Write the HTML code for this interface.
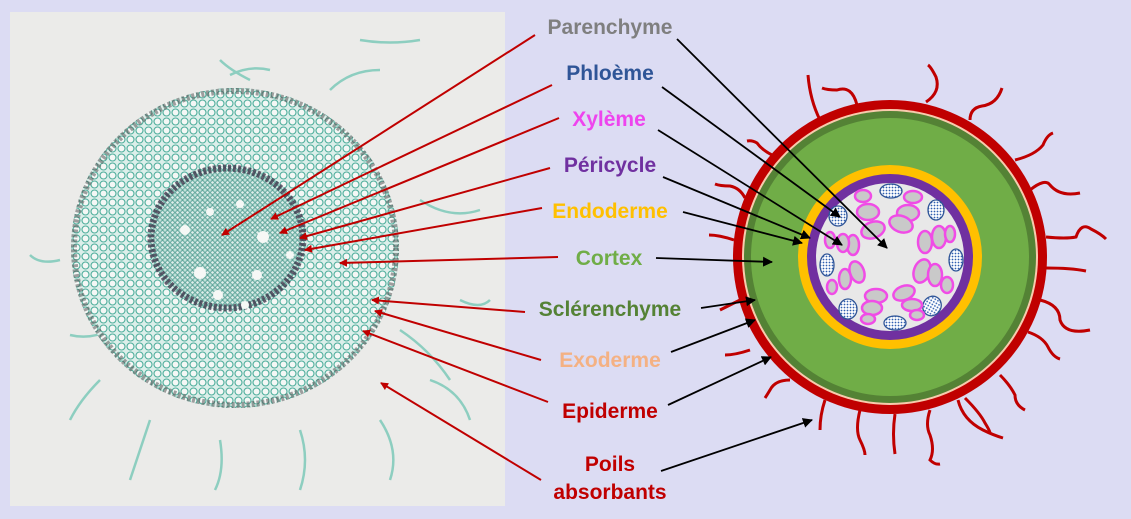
<!DOCTYPE html>
<html><head><meta charset="utf-8"><style>
html,body{margin:0;padding:0;}
body{width:1131px;height:519px;background:#dcdcf3;overflow:hidden;position:relative;font-family:"Liberation Sans",sans-serif;}
svg{position:absolute;left:0;top:0;}
</style></head><body>
<svg width="1131" height="519" viewBox="0 0 1131 519">
<defs>
<pattern id="cells" width="9" height="9" patternUnits="userSpaceOnUse">
<rect width="9" height="9" fill="#dcefea"/>
<circle cx="4.5" cy="4.5" r="3.5" fill="#f4f7f5" stroke="#4fae9c" stroke-width="1.1"/>
</pattern>
<pattern id="cellsS" width="5" height="5" patternUnits="userSpaceOnUse">
<rect width="5" height="5" fill="#bfe0d8"/>
<circle cx="2.5" cy="2.5" r="1.8" fill="#e2f0ec" stroke="#3c8f83" stroke-width="0.8"/>
</pattern>
<pattern id="dots" width="3" height="3" patternUnits="userSpaceOnUse">
<rect width="3" height="3" fill="#fff"/><circle cx="1.5" cy="1.5" r="0.9" fill="#2f5fb0"/>
</pattern>
<marker id="ar" markerWidth="8" markerHeight="8" refX="7" refY="4" orient="auto" markerUnits="userSpaceOnUse"><path d="M0,0 L8,4 L0,8 z" fill="#c00000"/></marker>
<marker id="ab" markerWidth="10" markerHeight="10" refX="9" refY="5" orient="auto" markerUnits="userSpaceOnUse"><path d="M0,0 L10,5 L0,10 z" fill="#000"/></marker>
</defs>
<!-- photo -->
<rect x="10" y="12" width="495" height="494" fill="#ebebe9"/>
<g stroke="#7cc9b8" stroke-width="2.5" fill="none" opacity="0.85">
<path d="M230 75 q20 -10 40 -5 M360 40 q30 5 60 0 M120 150 q-10 20 -30 25 M60 260 q-20 5 -30 -5 M420 200 q30 20 60 10 M400 330 q30 20 50 50 M150 420 q-10 30 -20 60 M220 440 q5 30 -5 50 M300 430 q10 30 0 60 M380 420 q20 30 10 60 M430 380 q30 10 40 40 M110 330 q-20 10 -40 5 M460 300 q20 10 30 0 M330 90 q20 -20 50 -20 M100 380 q-20 20 -30 40 M250 80 q-20 -10 -30 -20"/>
</g>
<ellipse cx="235" cy="248" rx="164" ry="160" fill="url(#cells)"/>
<ellipse cx="235" cy="248" rx="161" ry="157" fill="none" stroke="#555" stroke-width="6" stroke-dasharray="3 2" opacity="0.55"/>
<ellipse cx="227" cy="238" rx="78" ry="72" fill="url(#cellsS)"/>
<ellipse cx="227" cy="238" rx="76" ry="70" fill="none" stroke="#3a2f45" stroke-width="7" stroke-dasharray="3 2" opacity="0.75"/>
<g fill="#f6f8f6"><circle cx="210" cy="212" r="4"/><circle cx="263" cy="237" r="6"/><circle cx="185" cy="230" r="5"/><circle cx="200" cy="273" r="6"/><circle cx="257" cy="275" r="5"/><circle cx="218" cy="295" r="5"/><circle cx="245" cy="305" r="4"/><circle cx="290" cy="255" r="4"/><circle cx="240" cy="204" r="4"/></g>
<!-- red arrows -->
<g stroke="#c00000" stroke-width="2" fill="none" marker-end="url(#ar)">
<line x1="535" y1="35" x2="222" y2="235"/>
<line x1="552" y1="85" x2="271" y2="219"/>
<line x1="559" y1="118" x2="280" y2="233"/>
<line x1="550" y1="168" x2="300" y2="238"/>
<line x1="542" y1="208" x2="305" y2="250"/>
<line x1="558" y1="257" x2="340" y2="263"/>
<line x1="525" y1="312" x2="372" y2="300"/>
<line x1="541" y1="360" x2="375" y2="311"/>
<line x1="548" y1="402" x2="363" y2="331"/>
<line x1="541" y1="480" x2="381" y2="383"/>
</g>
<!-- hairs -->
<g stroke="#c00000" stroke-width="3" fill="none">
<path d="M820 120 q-10 -20 -12 -45"/>
<path d="M857 105 q-5 -20 -20 -15 q-10 0 -15 -2"/>
<path d="M926 102 q15 -10 10 -25 q-5 -10 -8 -12"/>
<path d="M970 120 q0 -12 12 -14 q15 -2 20 -18"/>
<path d="M1015 160 q20 -5 28 -15 q4 -10 10 -12"/>
<path d="M1030 190 q15 -12 20 -5 q10 12 30 8"/>
<path d="M1046 237 q20 2 30 0 q5 -15 15 -8 q10 5 15 10"/>
<path d="M1046 268 q25 0 40 3"/>
<path d="M1040 300 q20 5 20 20 q5 15 30 10"/>
<path d="M1028 332 q15 5 20 15 q5 10 12 12"/>
<path d="M1000 375 q10 10 15 20 q0 10 10 15"/>
<path d="M965 398 q15 15 20 25 q5 8 5 10 "/>
<path d="M958 400 q5 20 25 30 q10 5 20 8"/>
<path d="M930 410 q-5 15 0 25 q5 15 0 25 q5 5 10 4"/>
<path d="M895 414 q-3 20 0 40"/>
<path d="M860 410 q-5 20 0 30 q5 10 5 15"/>
<path d="M825 400 q-5 15 -5 30"/>
<path d="M790 380 q-15 0 -20 10 q-3 5 -5 8"/>
<path d="M750 350 q-15 5 -25 5"/>
<path d="M740 300 q-10 5 -20 10"/>
<path d="M734 240 q-15 -5 -25 -5"/>
<path d="M745 198 q-5 -10 -15 -12 q-10 0 -15 -2"/>
<path d="M772 155 q-10 -5 -15 -12 q-5 -3 -10 -2"/>
</g>
<!-- diagram -->
<circle cx="890" cy="257" r="157" fill="#c00000"/>
<circle cx="890" cy="257" r="148" fill="#f8cbad"/>
<circle cx="890" cy="257" r="146" fill="#548235"/>
<circle cx="890" cy="257" r="139" fill="#70ad47"/>
<circle cx="890" cy="257" r="92" fill="#ffc000"/>
<circle cx="890" cy="257" r="83" fill="#7030a0"/>
<circle cx="890" cy="257" r="74" fill="#e8e8e8"/>
<g fill="url(#dots)" stroke="#2f5597" stroke-width="1.3">
<ellipse cx="891" cy="191" rx="11" ry="7"/><ellipse cx="936" cy="210" rx="8" ry="10"/><ellipse cx="956" cy="260" rx="7" ry="11"/><ellipse cx="932" cy="306" rx="9" ry="10" transform="rotate(30 932 306)"/><ellipse cx="895" cy="323" rx="11" ry="7"/><ellipse cx="848" cy="309" rx="9" ry="10"/><ellipse cx="827" cy="265" rx="7" ry="11"/><ellipse cx="838" cy="216" rx="9" ry="10"/>
</g>
<g fill="#c9c9c9" stroke="#f04ce6" stroke-width="2.5">
<ellipse cx="863" cy="196" rx="8" ry="6"/><ellipse cx="868" cy="212" rx="11" ry="8"/><ellipse cx="873" cy="230" rx="12" ry="8" transform="rotate(-20 873 230)"/>
<ellipse cx="913" cy="197" rx="9" ry="6"/><ellipse cx="908" cy="213" rx="11" ry="8"/><ellipse cx="901" cy="224" rx="12" ry="8" transform="rotate(20 901 224)"/>
<ellipse cx="925" cy="242" rx="7" ry="11"/><ellipse cx="939" cy="237" rx="7" ry="11"/><ellipse cx="950" cy="234" rx="5" ry="8"/>
<ellipse cx="922" cy="271" rx="8" ry="12" transform="rotate(20 922 271)"/><ellipse cx="935" cy="275" rx="7" ry="11"/><ellipse cx="947" cy="285" rx="6" ry="8"/>
<ellipse cx="904" cy="293" rx="11" ry="7" transform="rotate(-20 904 293)"/><ellipse cx="912" cy="305" rx="10" ry="6"/><ellipse cx="917" cy="315" rx="7" ry="5"/>
<ellipse cx="876" cy="296" rx="11" ry="7"/><ellipse cx="872" cy="308" rx="10" ry="7"/><ellipse cx="868" cy="319" rx="7" ry="5"/>
<ellipse cx="857" cy="272" rx="7" ry="11" transform="rotate(-20 857 272)"/><ellipse cx="845" cy="279" rx="6" ry="10"/><ellipse cx="832" cy="287" rx="5" ry="7"/>
<ellipse cx="853" cy="245" rx="6" ry="10"/><ellipse cx="843" cy="243" rx="6" ry="9"/><ellipse cx="830" cy="240" rx="5" ry="8"/>
</g>
<!-- black arrows -->
<g stroke="#000" stroke-width="1.8" fill="none" marker-end="url(#ab)">
<line x1="677" y1="39" x2="887" y2="248"/>
<line x1="662" y1="87" x2="840" y2="217"/>
<line x1="658" y1="130" x2="842" y2="245"/>
<line x1="663" y1="177" x2="810" y2="238"/>
<line x1="683" y1="212" x2="802" y2="243"/>
<line x1="656" y1="258" x2="772" y2="262"/>
<line x1="701" y1="308" x2="755" y2="300"/>
<line x1="671" y1="352" x2="755" y2="320"/>
<line x1="668" y1="405" x2="771" y2="357"/>
<line x1="661" y1="471" x2="812" y2="420"/>
</g>
<g font-family="Liberation Sans, sans-serif" font-weight="bold" font-size="21" text-anchor="middle">
<text x="610" y="34" fill="#7f7f7f">Parenchyme</text>
<text x="610" y="80" fill="#2f5597">Phloème</text>
<text x="609" y="126" fill="#ee44ee">Xylème</text>
<text x="610" y="172" fill="#7030a0">Péricycle</text>
<text x="610" y="218" fill="#ffc000">Endoderme</text>
<text x="609" y="265" fill="#70ad47">Cortex</text>
<text x="610" y="316" fill="#548235">Sclérenchyme</text>
<text x="610" y="367" fill="#f4b183">Exoderme</text>
<text x="610" y="418" fill="#c00000">Epiderme</text>
<text x="610" y="471" fill="#c00000">Poils</text>
<text x="610" y="499" fill="#c00000">absorbants</text>
</g>
</svg>
</body></html>
